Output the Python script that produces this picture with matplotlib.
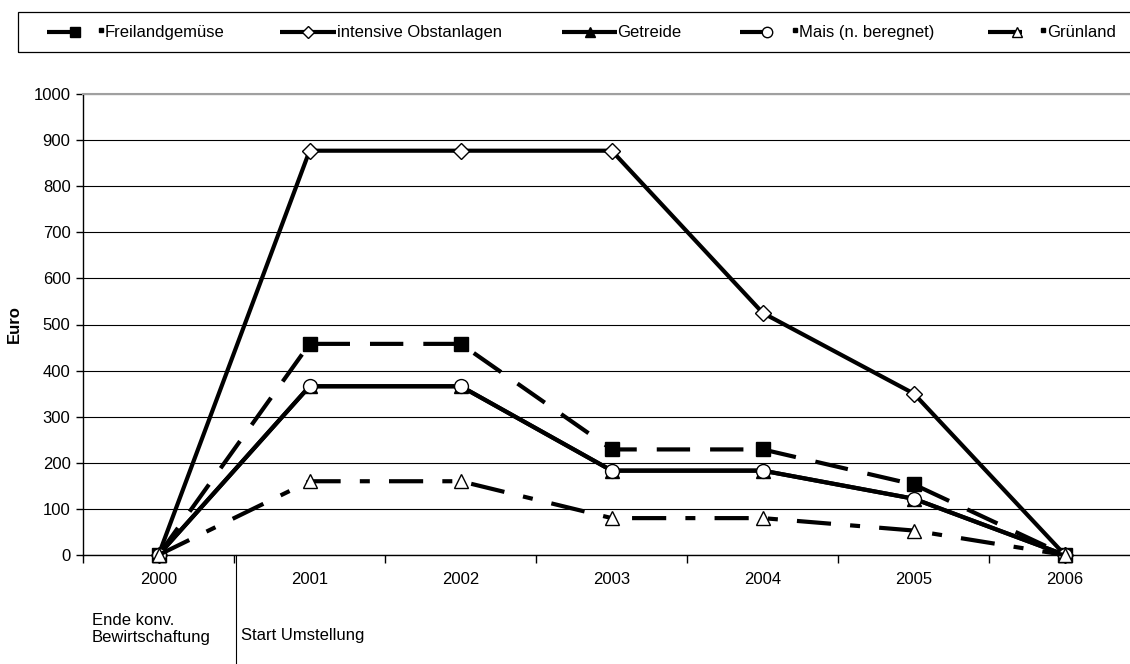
import matplotlib
matplotlib.use("Agg")
import matplotlib.pyplot as plt
from matplotlib.lines import Line2D
from matplotlib.patches import Rectangle
from matplotlib.ticker import FixedLocator, NullFormatter

plt.rcParams['font.family'] = ['Liberation Sans', 'DejaVu Sans']

years = ['2000', '2001', '2002', '2003', '2004', '2005', '2006']
freiland = [0, 458, 458, 229, 229, 153, 0]
obst = [0, 877, 877, 877, 525, 350, 0]
getreide = [0, 366, 366, 183, 183, 122, 0]
mais = [0, 366, 366, 183, 183, 122, 0]
gruenland = [0, 160, 160, 80, 80, 53, 0]
labels = ['Freilandgemüse', 'intensive Obstanlagen', 'Getreide',
          'Mais (n. beregnet)', 'Grünland']
y_label = 'Euro'
note_left = 'Ende konv.\nBewirtschaftung'
note_right = 'Start Umstellung'

W, H = 1130, 664
FS = 12
fig = plt.figure(figsize=(W / 100, H / 100), dpi=100)


def fx(x):
    return x / W


def fy(y):
    return 1 - y / H


ax = fig.add_axes([fx(83), fy(555), fx(1140.5) - fx(83), fy(94) - fy(555)])

x = list(range(len(years)))
LW = 3.0
styles = [
    dict(data=freiland, marker='s', ms=10, mfc='black', dashes=(8, 4.8)),
    dict(data=obst, marker='D', ms=8, mfc='white', dashes=None),
    dict(data=getreide, marker='^', ms=10, mfc='black', dashes=None),
    dict(data=mais, marker='o', ms=10, mfc='white', dashes=None),
    dict(data=gruenland, marker='^', ms=10, mfc='white', dashes=(8.2, 4.6, 2.4, 4.6)),
]
for st, lab in zip(styles, labels):
    ln, = ax.plot(x, st['data'], color='black', lw=LW, marker=st['marker'],
                  ms=st['ms'], mfc=st['mfc'], mec='black', mew=1.0,
                  label=lab, clip_on=False, zorder=3)
    if st['dashes']:
        ln.set_dashes(st['dashes'])
        ln.set_dash_capstyle('butt')

ax.set_xlim(-0.5, len(years) - 0.5)
ax.set_ylim(0, 1000)
ax.set_yticks(range(0, 1001, 100))
ax.yaxis.grid(True, color='black', lw=0.8)
ax.set_axisbelow(True)
ax.tick_params(axis='y', direction='out', length=5, width=1, pad=4, labelsize=FS)

ax.xaxis.set_major_locator(FixedLocator([i - 0.5 for i in range(len(years) + 1)]))
ax.xaxis.set_major_formatter(NullFormatter())
ax.xaxis.set_minor_locator(FixedLocator(x))
ax.set_xticklabels(years, minor=True)
ax.tick_params(axis='x', which='major', direction='out', length=6, width=1)
ax.tick_params(axis='x', which='minor', length=0, pad=12, labelsize=FS)

ax.spines['right'].set_visible(False)
ax.spines['top'].set_color('#a0a0a0')
ax.spines['top'].set_linewidth(1.5)
ax.spines['left'].set_linewidth(1)
ax.spines['bottom'].set_linewidth(1)

fig.text(fx(14), fy(324), y_label, rotation=90, ha='center', va='center',
         fontsize=FS, fontweight='bold')

# separator and notes under the axis
fig.add_artist(Line2D([fx(235.5), fx(235.5)], [fy(555), fy(664)],
                      transform=fig.transFigure, color='black', lw=0.8))
fig.text(fx(92), fy(642), note_left, ha='left', va='baseline', fontsize=FS,
         linespacing=1.2)
fig.text(fx(241), fy(640), note_right, ha='left', va='baseline', fontsize=FS)

# legend box
fig.add_artist(Rectangle((fx(18), fy(52)), fx(1200) - fx(18), fy(12) - fy(52),
                         transform=fig.transFigure, fill=False,
                         edgecolor='black', lw=0.9))
leg_y = 32
leg_base = 37
leg = [
    # (line start, line end, marker x, text x, dot)
    (47, 80, 75, 105, True),
    (280, 336, 308, 337, False),
    (562, 617, 590, 617, False),
    (740, 770, 767, 799, True),
    (988, 1022, 1017, 1047, True),
]
for st, lab, (x0, x1, mx, tx, dot) in zip(styles, labels, leg):
    fig.add_artist(Line2D([fx(x0), fx(x1)], [fy(leg_y), fy(leg_y)],
                          transform=fig.transFigure, color='black', lw=LW,
                          solid_capstyle='butt'))
    fig.add_artist(Line2D([fx(mx)], [fy(leg_y)], transform=fig.transFigure,
                          marker=st['marker'], ms=st['ms'] * 0.75,
                          mfc=st['mfc'], mec='black', mew=1.0, lw=0))
    if dot:
        fig.add_artist(Line2D([fx(tx - 4)], [fy(leg_y - 2)],
                              transform=fig.transFigure, marker='s', ms=2.2,
                              mfc='black', mec='black', lw=0))
    fig.text(fx(tx), fy(leg_base), lab, ha='left', va='baseline', fontsize=FS)

fig.savefig('out.png', dpi=100)
